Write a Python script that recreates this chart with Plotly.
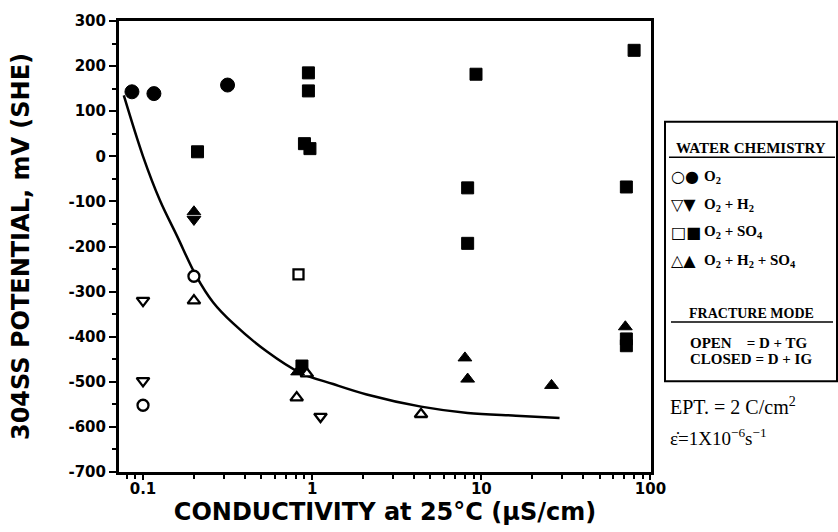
import plotly.graph_objects as go

# ---- data ----
o2_open_x = [0.2, 0.1]
o2_open_y = [-266, -552]
o2_closed_x = [0.086, 0.116, 0.316]
o2_closed_y = [143, 139, 158]

o2h2_open_x = [0.1, 0.1, 1.12]
o2h2_open_y = [-320, -498, -577]
o2h2_closed_x = [0.2]
o2h2_closed_y = [-140]

o2so4_open_x = [0.83]
o2so4_open_y = [-262]
o2so4_closed_x = [0.21, 0.95, 0.95, 0.9, 0.97, 0.87, 9.3, 8.3, 8.3, 80, 72, 72, 72]
o2so4_closed_y = [10, 185, 145, 28, 17, -465, 182, -70, -193, 235, -68, -405, -420]

o2h2so4_open_x = [0.2, 0.81, 0.93, 4.4]
o2h2so4_open_y = [-320, -535, -482, -572]
o2h2so4_closed_x = [0.2, 0.82, 8.0, 8.3, 26, 71]
o2h2so4_closed_y = [-123, -478, -447, -494, -508, -378]

curve_x = [0.077, 0.1, 0.126, 0.159, 0.206, 0.26, 0.34, 0.54, 0.85, 1.33, 2.1, 4.4, 8.3, 16, 29]
curve_y = [135, 0, -98, -177, -265, -324, -370, -433, -480, -505, -528, -555, -569, -575, -580]

x_tick_vals = [0.1, 1, 10, 100]
x_tick_text = ["0.1", "1", "10", "100"]
y_tick_vals = [300, 200, 100, 0, -100, -200, -300, -400, -500, -600, -700]
y_tick_text = ["300", "200", "100", "0", "-100", "-200", "-300", "-400", "-500", "-600", "-700"]

legend_rows = ["O<sub>2</sub>", "O<sub>2</sub> + H<sub>2</sub>", "O<sub>2</sub> + SO<sub>4</sub>",
               "O<sub>2</sub> + H<sub>2</sub> + SO<sub>4</sub>"]
legend_syms = ["○●", "▽▼", "□■", "△▲"]

# ---- figure ----
fig = go.Figure()

fig.add_trace(go.Scatter(x=curve_x, y=curve_y, mode="lines",
                         line=dict(color="black", width=2.5, shape="spline"),
                         showlegend=False, hoverinfo="skip"))

def add_pts(x, y, sym, size, openm):
    if openm:
        m = dict(symbol=sym, size=size, color="white", line=dict(color="black", width=2.3))
    else:
        m = dict(symbol=sym, size=size, color="black", line=dict(color="black", width=1))
    fig.add_trace(go.Scatter(x=x, y=y, mode="markers", marker=m, showlegend=False))

add_pts(o2_open_x, o2_open_y, "circle", 11, True)
add_pts(o2_closed_x, o2_closed_y, "circle", 14, False)
add_pts(o2h2_open_x, o2h2_open_y, "triangle-down", 11, True)
add_pts(o2h2_closed_x, o2h2_closed_y, "triangle-down", 12, False)
add_pts(o2so4_open_x, o2so4_open_y, "square", 10, True)
add_pts(o2so4_closed_x, o2so4_closed_y, "square", 12, False)
add_pts(o2h2so4_open_x, o2h2so4_open_y, "triangle-up", 11, True)
add_pts(o2h2so4_closed_x, o2h2so4_closed_y, "triangle-up", 12, False)

L, R, T, B = 119, 651, 15, 472
W, H = 838, 532

def px(xp):
    return (xp - L) / (R - L)

def py(yp):
    return (B - yp) / (B - T)

sans = "DejaVu Sans"
serif = "Liberation Serif"

fig.update_layout(
    width=W, height=H,
    margin=dict(l=L, r=W - R, t=T, b=H - B),
    plot_bgcolor="white", paper_bgcolor="white",
    showlegend=False,
    xaxis=dict(
        type="log", range=[-1.142, 2.003],
        tickvals=x_tick_vals, ticktext=x_tick_text,
        ticks="outside", ticklen=5, tickwidth=2, tickcolor="black",
        ticklabelstandoff=-4,
        minor=dict(tickvals=[0.08, 0.09, 0.2, 0.3, 0.4, 0.5, 0.6, 0.7, 0.8, 0.9,
                             2, 3, 4, 5, 6, 7, 8, 9, 20, 30, 40, 50, 60, 70, 80, 90],
                   ticks="outside", ticklen=4, tickwidth=1.5, tickcolor="black"),
        showline=True, linewidth=3, linecolor="black", mirror=True,
        showgrid=False, zeroline=False,
        tickfont=dict(family=sans, size=15, color="black", weight="bold"),
        title=dict(text="CONDUCTIVITY at 25°C (µS/cm)", standoff=0,
                   font=dict(family=sans, size=24, color="black", weight="bold")),
    ),
    yaxis=dict(
        range=[-700, 300],
        tickvals=y_tick_vals, ticktext=y_tick_text,
        ticks="outside", ticklen=7, tickwidth=2, tickcolor="black",
        minor=dict(dtick=50, ticks="outside", ticklen=4, tickwidth=1.5, tickcolor="black"),
        showline=True, linewidth=3, linecolor="black", mirror=True,
        showgrid=False, zeroline=False,
        tickfont=dict(family=sans, size=15, color="black", weight="bold"),
        title=dict(text="304SS POTENTIAL, mV (SHE)", standoff=33,
                   font=dict(family=sans, size=24, color="black", weight="bold")),
    ),
)

# legend box
fig.add_shape(type="rect", xref="paper", yref="paper",
              x0=px(665), x1=px(837), y0=py(380), y1=py(117),
              line=dict(color="black", width=2), fillcolor="white", layer="above")
fig.add_shape(type="line", xref="paper", yref="paper",
              x0=px(669), x1=px(835), y0=py(153), y1=py(153),
              line=dict(color="black", width=1.5))
fig.add_shape(type="line", xref="paper", yref="paper",
              x0=px(671), x1=px(833), y0=py(320), y1=py(320),
              line=dict(color="black", width=1.5))

ann = []
ann.append(dict(text="WATER CHEMISTRY", x=px(751), y=py(144), xanchor="center", yanchor="middle",
                font=dict(family=serif, size=15, color="black", weight="bold")))
row_y = [173, 201, 229, 258]
for s, t, yy in zip(legend_syms, legend_rows, row_y):
    ann.append(dict(text=s, x=px(669), y=py(yy), xanchor="left", yanchor="middle",
                    font=dict(family="DejaVu Sans", size=16, color="black", weight="bold")))
    ann.append(dict(text=t, x=px(702), y=py(yy), xanchor="left", yanchor="middle",
                    font=dict(family=serif, size=15, color="black", weight="bold")))
ann.append(dict(text="FRACTURE MODE", x=px(751), y=py(311), xanchor="center", yanchor="middle",
                font=dict(family=serif, size=14, color="black", weight="bold")))
ann.append(dict(text="OPEN&nbsp;&nbsp;&nbsp;&nbsp;= D + TG", x=px(688), y=py(341), xanchor="left", yanchor="middle",
                font=dict(family=serif, size=15, color="black", weight="bold")))
ann.append(dict(text="CLOSED = D + IG", x=px(688), y=py(357), xanchor="left", yanchor="middle",
                font=dict(family=serif, size=15, color="black", weight="bold")))
ann.append(dict(text="EPT. = 2 C/cm<sup>2</sup>", x=px(668), y=py(405), xanchor="left", yanchor="middle",
                font=dict(family=serif, size=20, color="black")))
ann.append(dict(text="ε̇=1X10<sup>−6</sup>s<sup>−1</sup>", x=px(668), y=py(437), xanchor="left", yanchor="middle",
                font=dict(family=serif, size=19, color="black")))
for a in ann:
    a.update(xref="paper", yref="paper", showarrow=False)
fig.update_layout(annotations=ann)

fig.write_html("out.html")
